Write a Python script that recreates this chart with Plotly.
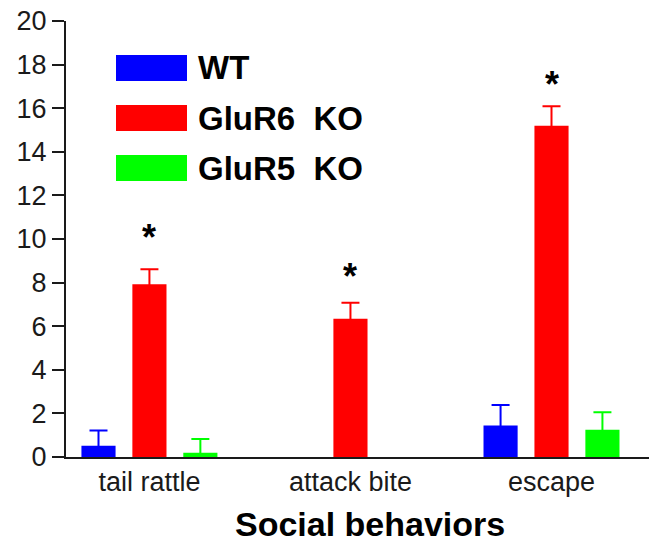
import plotly.graph_objects as go

categories = ["tail rattle", "attack bite", "escape"]
groups = ["WT", "GluR6  KO", "GluR5  KO"]
colors = ["#0000FF", "#FF0000", "#00FF00"]
wt_mean = [0.52, None, 1.44]
wt_err = [0.70, None, 0.95]
glur6_mean = [7.92, 6.34, 15.2]
glur6_err = [0.69, 0.74, 0.89]
glur5_mean = [0.20, None, 1.25]
glur5_err = [0.63, None, 0.80]
star_text = ["*", "*", "*"]
star_y = [10.4, 8.6, 17.4]
y_ticks = [0, 2, 4, 6, 8, 10, 12, 14, 16, 18, 20]

means = [wt_mean, glur6_mean, glur5_mean]
errs = [wt_err, glur6_err, glur5_err]

W, H = 649, 544
L, R, T, B = 66, 0, 21, 87
pw, ph = W - L - R, H - T - B

def px(x):
    return (x - L) / pw

def py(y):
    return (H - B - y) / ph

AX = "#1a1a1a"
FONT = "Liberation Sans, Arial, sans-serif"

fig = go.Figure()
# error bars first (symmetric; lower half hidden by the solid bars drawn after)
for i, (name, m, e, c) in enumerate(zip(groups, means, errs, colors)):
    fig.add_trace(go.Bar(
        x=categories, y=m, name=name + " err", offsetgroup=str(i),
        marker=dict(color="rgba(0,0,0,0)", line=dict(width=0)),
        error_y=dict(type="data", array=e, symmetric=True,
                     color=c, thickness=2, width=9),
        showlegend=False, hoverinfo="skip",
    ))
for i, (name, m, c) in enumerate(zip(groups, means, colors)):
    fig.add_trace(go.Bar(
        x=categories, y=m, name=name, offsetgroup=str(i),
        marker=dict(color=c, line=dict(width=0)),
        showlegend=False,
    ))

for cat, s, sy in zip(categories, star_text, star_y):
    fig.add_annotation(x=cat, y=sy, text="<b>" + s + "</b>", showarrow=False,
                       font=dict(family=FONT, size=36, color="black"),
                       xanchor="center", yanchor="middle", yshift=-7)

# legend drawn manually
sw_top = [55, 105, 155]
for name, c, t in zip(groups, colors, sw_top):
    fig.add_shape(type="rect", xref="paper", yref="paper",
                  x0=px(116), x1=px(187), y0=py(t + 26), y1=py(t),
                  fillcolor=c, line=dict(width=0), layer="above")
    fig.add_annotation(xref="paper", yref="paper", x=px(196), y=py(t + 13),
                       text="<b>" + name.replace(" ", "&nbsp;") + "</b>", showarrow=False,
                       xanchor="left", yanchor="middle",
                       font=dict(family=FONT, size=33, color="black"))

fig.add_annotation(xref="paper", yref="paper", x=px(370), y=py(524),
                   text="<b>Social behaviors</b>", showarrow=False,
                   xanchor="center", yanchor="middle",
                   font=dict(family=FONT, size=34, color="black"))

fig.update_layout(
    width=W, height=H,
    margin=dict(l=L, r=R, t=T, b=B, pad=0),
    paper_bgcolor="white", plot_bgcolor="white",
    barmode="group", bargap=0.24, bargroupgap=0.33,
    font=dict(family=FONT, color=AX),
    xaxis=dict(type="category", range=[-0.415, 2.485], showgrid=False,
               showline=True, linecolor=AX, linewidth=2, ticks="",
               tickfont=dict(size=27, color=AX), zeroline=False),
    yaxis=dict(range=[0, 20], tickvals=y_ticks, showgrid=False, zeroline=False,
               showline=True, linecolor=AX, linewidth=2, ticks="outside",
               ticklen=12, tickwidth=2, tickcolor=AX,
               tickfont=dict(size=27, color=AX)),
)

fig.write_html("out.html")
